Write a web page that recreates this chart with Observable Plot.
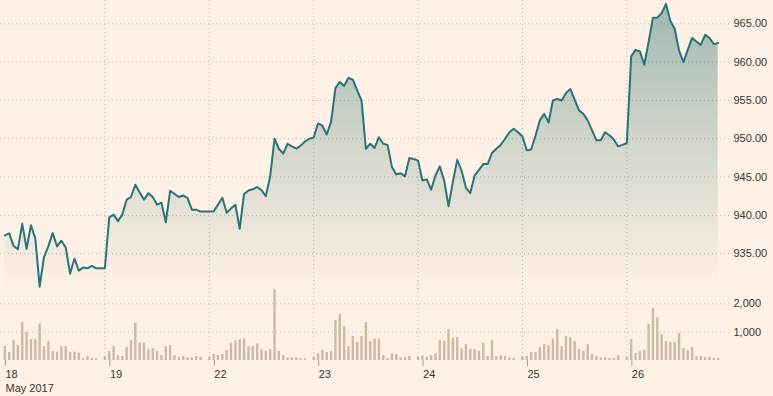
<!DOCTYPE html>
<html><head><meta charset="utf-8">
<script src="https://cdn.jsdelivr.net/npm/d3@7"></script>
<script src="https://cdn.jsdelivr.net/npm/@observablehq/plot@0.6"></script>
<style>
html,body{margin:0;padding:0;background:#fff1e5;}
#chart{position:relative;width:773px;height:396px;overflow:hidden;background:#fff1e5;}
#chart svg{position:absolute;left:0;overflow:visible;}
</style></head><body><div id="chart"></div>
<script>
// Day labels (x axis)
const days = ["18", "19", "22", "23", "24", "25", "26"];
const monthLabel = "May 2017";
const slotsPerDay = 24;

// Price per intraday slot
const price18 = [937.4, 937.65, 936.0, 935.6, 938.9, 935.65, 938.7, 937.0, 930.7, 934.55, 935.95, 937.7, 935.95, 936.7, 935.8, 932.4, 934.35, 932.8, 933.2, 933.1, 933.4, 933.1, 933.1, 933.1];
const price19 = [939.75, 940.1, 939.25, 940.1, 942.05, 942.4, 944.0, 943.0, 942.05, 942.9, 942.4, 941.4, 941.65, 939.1, 943.2, 942.8, 942.4, 942.6, 942.25, 940.75, 940.75, 940.5, 940.5, 940.5];
const price22 = [940.5, 941.4, 942.3, 940.35, 940.9, 941.4, 938.25, 942.8, 943.25, 943.4, 943.7, 943.3, 942.5, 945.1, 950.0, 948.7, 948.05, 949.35, 949.0, 948.7, 949.1, 949.65, 950.0, 950.15];
const price23 = [952.0, 951.7, 950.55, 952.2, 956.6, 957.4, 956.9, 957.95, 957.7, 956.3, 955.0, 948.7, 949.35, 948.8, 950.2, 949.35, 949.2, 946.3, 945.35, 945.5, 945.1, 947.5, 947.35, 947.15];
const price24 = [944.55, 944.7, 943.35, 945.2, 946.4, 944.55, 941.2, 944.35, 947.25, 945.85, 943.6, 942.9, 945.2, 945.95, 946.7, 946.7, 948.15, 948.7, 949.2, 950.0, 950.85, 951.3, 950.85, 950.3];
const price25 = [948.5, 948.6, 950.4, 952.4, 953.25, 952.1, 955.0, 955.2, 955.0, 955.95, 956.5, 955.1, 953.7, 953.25, 952.4, 951.1, 949.8, 949.8, 950.85, 950.45, 949.9, 949.0, 949.2, 949.45];
const price26 = [960.75, 961.6, 961.4, 959.65, 962.6, 965.8, 965.8, 966.4, 967.6, 965.35, 964.35, 961.5, 960.0, 961.6, 963.15, 962.7, 962.25, 963.55, 963.15, 962.35, 962.5];

// Volume per intraday slot
const vol18 = [494, 282, 706, 529, 1341, 988, 741, 741, 1294, 494, 671, 318, 294, 494, 494, 294, 294, 259, 59, 141, 71, 59, 0, 140];
const vol19 = [318, 494, 176, 141, 459, 706, 1318, 612, 612, 388, 424, 318, 176, 494, 529, 176, 118, 141, 94, 94, 141, 118, 0, 130];
const vol22 = [212, 176, 212, 353, 612, 706, 729, 765, 494, 494, 588, 376, 318, 388, 2506, 318, 176, 94, 94, 94, 71, 59, 0, 120];
const vol23 = [235, 353, 282, 318, 1412, 1624, 1200, 494, 847, 635, 847, 1341, 671, 765, 753, 176, 71, 235, 212, 94, 94, 141, 0, 110];
const vol24 = [165, 118, 165, 235, 706, 682, 1094, 788, 812, 412, 565, 388, 388, 318, 612, 141, 706, 141, 176, 141, 94, 71, 0, 120];
const vol25 = [141, 282, 282, 459, 565, 529, 765, 1094, 494, 847, 800, 671, 388, 318, 565, 212, 141, 94, 94, 71, 71, 176, 0, 110];
const vol26 = [741, 247, 318, 353, 1271, 1824, 1506, 906, 671, 635, 635, 953, 424, 353, 459, 141, 141, 106, 106, 71, 71];

// Axis ticks
const priceTicks = [935, 940, 945, 950, 955, 960, 965];
const volTicks = [1000, 2000];

const prices = [price18, price19, price22, price23, price24, price25, price26];
const volumes = [vol18, vol19, vol22, vol23, vol24, vol25, vol26];
const rows = days.flatMap((day, d) => prices[d].map((p, j) => ({k: d * slotsPerDay + j + 1, price: p, vol: volumes[d][j]})));
const dayTicks = days.map((_, d) => d * slotsPerDay);
const dayLabel = k => { const i = Math.round(k / slotsPerDay); return i === 0 ? days[0] + "\n" + monthLabel : days[i]; };

const priceDomain = [930.2, 968.04];
const gridColor = "#bfb4aa";
const font = "'Liberation Sans', Arial, sans-serif";
const common = {
  width: 773, marginLeft: 0, marginRight: 44,
  style: {background: "transparent", fontFamily: font, fontSize: "11px", color: "#3a3633"}
};

const gradientDefs = () => {
  const ns = "http://www.w3.org/2000/svg";
  const defs = document.createElementNS(ns, "defs");
  const g = document.createElementNS(ns, "linearGradient");
  g.setAttribute("id", "pg"); g.setAttribute("gradientUnits", "userSpaceOnUse");
  g.setAttribute("x1", 0); g.setAttribute("x2", 0); g.setAttribute("y1", 0); g.setAttribute("y2", 290);
  [[0, 0.5], [0.5, 0.23], [1, 0]].forEach(([o, a]) => {
    const s = document.createElementNS(ns, "stop");
    s.setAttribute("offset", o); s.setAttribute("stop-color", "#3f7d78"); s.setAttribute("stop-opacity", a);
    g.appendChild(s);
  });
  defs.appendChild(g);
  return defs;
};

const pricePlot = Plot.plot({
  ...common, height: 290, marginTop: 0, marginBottom: 0,
  x: {domain: [0, 167.6], axis: null},
  y: {domain: priceDomain, label: null},
  marks: [
    gradientDefs,
    Plot.gridY(priceTicks, {stroke: gridColor, strokeOpacity: 1, strokeDasharray: "1,3"}),
    Plot.gridX(dayTicks.slice(1), {stroke: gridColor, strokeOpacity: 1, strokeDasharray: "1,3"}),
    Plot.areaY(rows, {x: "k", y1: priceDomain[0], y2: "price", fill: "url(#pg)"}),
    Plot.lineY(rows, {x: "k", y: "price", stroke: "#27757a", strokeWidth: 2, strokeLinejoin: "round"}),
    Plot.axisY(priceTicks, {anchor: "right", label: null, tickSize: 0, tickPadding: 4, tickFormat: d3.format(".2f"), fill: "#3a3633"})
  ]
});

const volumePlot = Plot.plot({
  ...common, height: 116, marginTop: 0, marginBottom: 36,
  x: {domain: [0, 167.6], label: null},
  y: {domain: [0, 2822], label: null},
  marks: [
    Plot.gridY(volTicks, {stroke: gridColor, strokeOpacity: 1, strokeDasharray: "1,3"}),
    Plot.gridX(dayTicks.slice(1), {stroke: gridColor, strokeOpacity: 1, strokeDasharray: "1,3"}),
    Plot.ruleX(rows.filter(r => r.vol > 0), {x: "k", y1: 0, y2: "vol", stroke: "#ccb9a6", strokeWidth: 2.4}),
    Plot.axisY(volTicks, {anchor: "right", label: null, tickSize: 0, tickPadding: 4, tickFormat: d3.format(","), fill: "#3a3633"}),
    Plot.axisX(dayTicks, {anchor: "bottom", label: null, tickSize: 6, tickPadding: 1, tickFormat: dayLabel, textAnchor: "start", dx: 5, lineHeight: 1.3, stroke: "#a69d95", fill: "#3a3633"})
  ]
});

const chart = document.getElementById("chart");
pricePlot.style.top = "0px";
volumePlot.style.top = "280px";
chart.appendChild(pricePlot);
chart.appendChild(volumePlot);
</script>
</body></html>
